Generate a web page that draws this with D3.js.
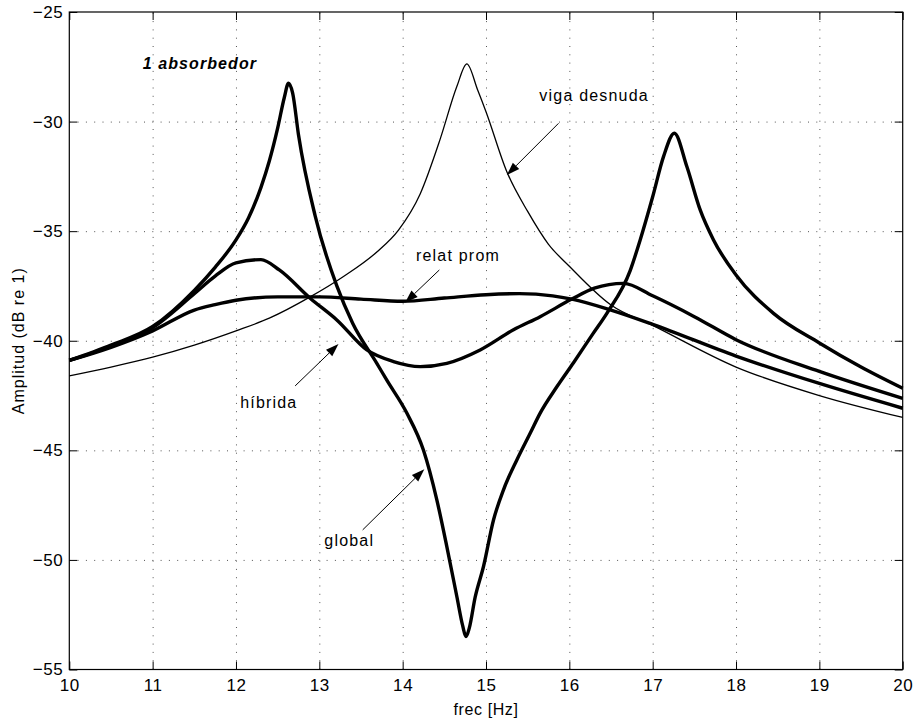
<!DOCTYPE html>
<html>
<head>
<meta charset="utf-8">
<script src="https://cdn.jsdelivr.net/npm/d3@7"></script>
<style>
  body { margin: 0; background: #fff; }
  svg text { font-family: "Liberation Sans", Arial, Helvetica, sans-serif; fill: #000; }
</style>
</head>
<body>
<svg id="chart" width="915" height="722"></svg>
<script>
// frequency ticks and amplitude ticks
var xTicks = [10, 11, 12, 13, 14, 15, 16, 17, 18, 19, 20]
var yTicks = [-55, -50, -45, -40, -35, -30, -25]

// [frec Hz, amplitud dB]
var vigaDesnuda = [
    [10, -41.6], [10.5, -41.2], [11, -40.75], [11.5, -40.2], [12, -39.55], [12.4, -38.97],
    [12.89, -38.0], [13.29, -37.07], [13.69, -35.95], [13.95, -34.95], [14.21, -33.3],
    [14.45, -30.8], [14.65, -28.4], [14.77, -27.37], [14.9, -28.56], [15, -29.55],
    [15.25, -32.29], [15.5, -34.1], [15.75, -35.6], [16, -36.6], [16.5, -38.37],
    [17, -39.3], [18, -41.2], [19, -42.5], [20, -43.5]
]

var relatProm = [
    [10, -40.9], [10.5, -40.3], [11, -39.55], [11.5, -38.6], [11.75, -38.35], [12, -38.15],
    [12.5, -38.0], [13, -38.0], [13.5, -38.1], [14, -38.2], [14.5, -38.05], [15, -37.9],
    [15.4, -37.85], [15.8, -37.95], [16.03, -38.1], [16.5, -38.6], [17, -39.25], [18, -40.7],
    [19, -41.95], [20, -43.08]
]

var hibrida = [
    [10, -40.9], [10.5, -40.25], [11, -39.4], [11.5, -37.85], [11.75, -37.05], [12, -36.45],
    [12.3, -36.3], [12.52, -36.77], [12.89, -38.06], [13.21, -39.05], [13.57, -40.42],
    [13.89, -40.95], [14.21, -41.18], [14.53, -41.03], [14.93, -40.42], [15.33, -39.5],
    [15.65, -38.9], [16.03, -38.1], [16.3, -37.6], [16.65, -37.38], [17, -37.95],
    [17.5, -38.9], [18, -39.95], [19, -41.4], [20, -42.63]
]

var global = [
    [10, -40.9], [10.5, -40.2], [11, -39.35], [11.5, -37.7], [11.75, -36.65], [12, -35.4],
    [12.15, -34.4], [12.3, -33.0], [12.4, -31.8], [12.5, -30.3], [12.58, -28.9], [12.63, -28.25],
    [12.68, -28.7], [12.75, -30.6], [12.95, -34.3], [13.21, -37.5], [13.4, -39.2],
    [13.69, -41.03], [13.81, -41.8], [14.05, -43.3], [14.25, -45.0], [14.41, -47.26],
    [14.53, -49.39], [14.65, -51.67], [14.72, -53.0], [14.76, -53.5], [14.8, -53.1],
    [14.87, -51.7], [14.97, -50.3], [15.09, -48.18], [15.21, -46.8], [15.37, -45.44],
    [15.53, -44.22], [15.65, -43.3], [15.85, -42.1], [16.05, -41.0],
    [16.28, -39.7], [16.45, -38.75], [16.73, -36.8], [16.85, -35.4], [17, -33.43],
    [17.13, -31.6], [17.26, -30.53], [17.41, -32.05], [17.57, -34.03], [17.73, -35.4],
    [18, -37.0], [18.45, -38.75], [19, -40.1], [19.5, -41.2], [20, -42.17]
]

// text labels: [text, frec of left edge, amplitud of middle]
var labels = [
    ["viga desnuda", 15.64, -28.79],
    ["relat prom", 14.16, -36.09],
    ["híbrida", 12.05, -42.82],
    ["global", 13.06, -49.12]
]
// arrows: [from frec, from amp, tip frec, tip amp]
var arrows = [
    [15.87, -30.08, 15.25, -32.44],
    [14.44, -36.77, 14.03, -38.26],
    [12.71, -42.06, 13.23, -40.15],
    [13.52, -48.63, 14.26, -45.86]
]

var plotLeft = 69.3, plotTop = 12, plotRight = 902.7, plotBottom = 669.5
var chartWidth = plotRight - plotLeft
var chartHeight = plotBottom - plotTop

var svg = d3.select("#chart")
var g = svg.append("g").attr("transform", "translate(" + plotLeft + "," + plotTop + ")")

var x = d3.scaleLinear().domain([10, 20]).range([0, chartWidth])
var y = d3.scaleLinear().domain([-55, -25]).range([chartHeight, 0])

// dotted grid
g.append("g")
    .attr("transform", "translate(0," + chartHeight + ")")
    .call(d3.axisBottom(x).tickValues(xTicks.slice(1, -1)).tickSize(-chartHeight).tickFormat(""))
    .call(s => s.select(".domain").remove())
    .selectAll("line")
    .attr("stroke", "#555").attr("stroke-dasharray", "1,7.3")

g.append("g")
    .call(d3.axisLeft(y).tickValues(yTicks.slice(1, -1)).tickSize(-chartWidth).tickFormat(""))
    .call(s => s.select(".domain").remove())
    .selectAll("line")
    .attr("stroke", "#555").attr("stroke-dasharray", "1,7.3")

// axes with ticks pointing inwards, like matlab
g.append("g")
    .attr("transform", "translate(0," + chartHeight + ")")
    .call(d3.axisBottom(x).tickValues(xTicks).tickSize(-8).tickSizeOuter(0).tickPadding(9).tickFormat(d3.format("d")))
g.append("g")
    .call(d3.axisTop(x).tickValues(xTicks).tickSize(-8).tickSizeOuter(0).tickFormat(""))
g.append("g")
    .call(d3.axisLeft(y).tickValues(yTicks).tickSize(-8).tickSizeOuter(0).tickPadding(6).tickFormat(d3.format("d")))
g.append("g")
    .attr("transform", "translate(" + chartWidth + ",0)")
    .call(d3.axisRight(y).tickValues(yTicks).tickSize(-8).tickSizeOuter(0).tickFormat(""))

g.selectAll(".domain").remove()
g.selectAll(".tick text")
    .style("font-size", "17px")
    .style("letter-spacing", "0.6px")
    .attr("font-family", null)

g.append("rect")
    .attr("width", chartWidth).attr("height", chartHeight)
    .attr("fill", "none").attr("stroke", "#000").attr("stroke-width", 1.2)

var line = d3.line()
    .x(function (d) { return x(d[0]) })
    .y(function (d) { return y(d[1]) })
    .curve(d3.curveMonotoneX)

g.append("path").datum(vigaDesnuda).attr("d", line)
    .attr("fill", "none").attr("stroke", "#000").attr("stroke-width", 1.3)

var thick = [relatProm, hibrida, global]
thick.forEach(function (s) {
    g.append("path").datum(s).attr("d", line)
        .attr("fill", "none").attr("stroke", "#000").attr("stroke-width", 3.4)
        .attr("stroke-linejoin", "round")
})

// annotations
g.append("text")
    .attr("x", x(10.88)).attr("y", y(-27.34)).attr("dy", "0.35em")
    .style("font-size", "16px").style("font-weight", "bold").style("font-style", "italic")
    .style("letter-spacing", "1.1px")
    .text("1 absorbedor")

labels.forEach(function (d) {
    g.append("text")
        .attr("x", x(d[1])).attr("y", y(d[2])).attr("dy", "0.35em")
        .style("font-size", "16px").style("letter-spacing", "1.2px")
        .text(d[0])
})

arrows.forEach(function (a) {
    var x1 = x(a[0]), y1 = y(a[1]), x2 = x(a[2]), y2 = y(a[3])
    var ang = Math.atan2(y2 - y1, x2 - x1)
    var len = 13, half = 4.5
    var bx = x2 - len * Math.cos(ang), by = y2 - len * Math.sin(ang)
    g.append("line")
        .attr("x1", x1).attr("y1", y1).attr("x2", bx).attr("y2", by)
        .attr("stroke", "#000").attr("stroke-width", 1)
    var p = [
        [x2, y2],
        [bx + half * Math.sin(ang), by - half * Math.cos(ang)],
        [bx - half * Math.sin(ang), by + half * Math.cos(ang)]
    ]
    g.append("path").attr("d", "M" + p.join("L") + "Z").attr("fill", "#000")
})

// axis titles
svg.append("text")
    .attr("x", plotLeft + chartWidth / 2).attr("y", 715)
    .attr("text-anchor", "middle")
    .style("font-size", "16px").style("letter-spacing", "0.6px")
    .text("frec [Hz]")

svg.append("text")
    .attr("transform", "translate(24," + (plotTop + chartHeight / 2) + ") rotate(-90)")
    .attr("text-anchor", "middle")
    .style("font-size", "16px").style("letter-spacing", "1px")
    .text("Amplitud (dB re 1)")
</script>
</body>
</html>
